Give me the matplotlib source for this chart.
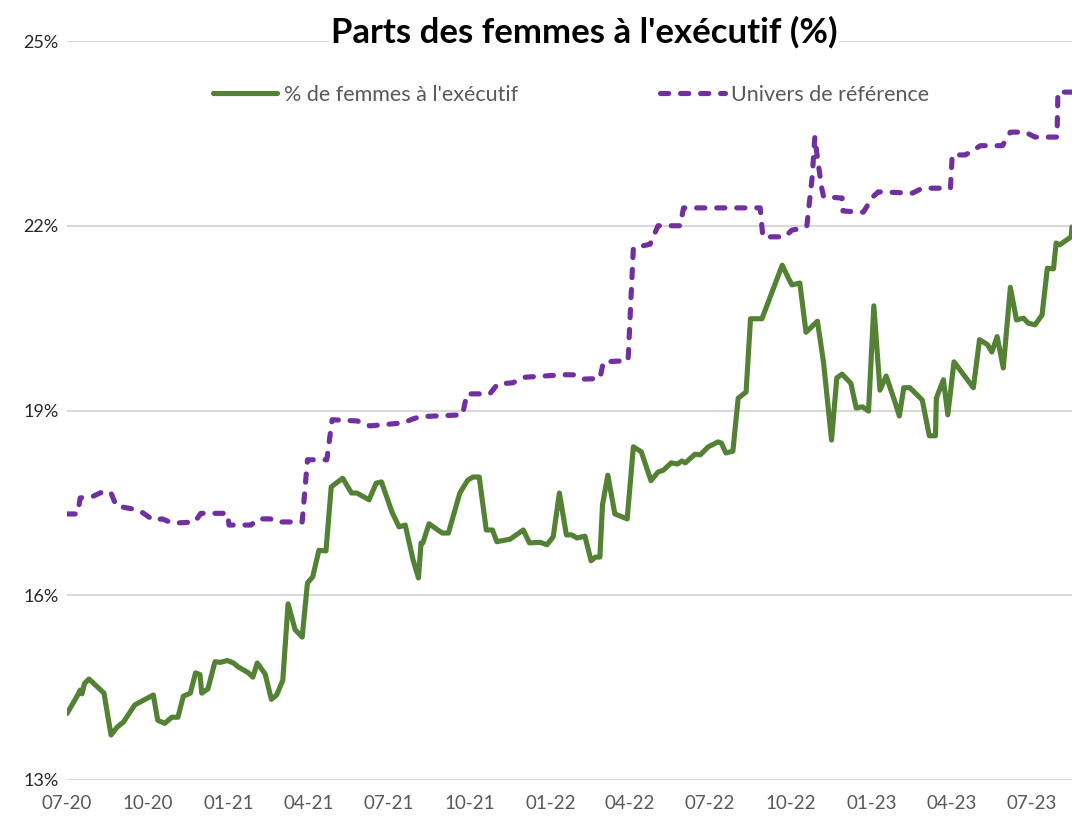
import matplotlib
matplotlib.use("Agg")
import matplotlib.pyplot as plt
import matplotlib.dates as mdates
import pandas as pd

plt.rcParams['font.family'] = ['Lato', 'DejaVu Sans']

title = "Parts des femmes à l'exécutif (%)"
label_women = "% de femmes à l'exécutif"
label_ref = "Univers de référence"

women_dates = [
    "2020-07-01", "2020-07-12", "2020-07-16", "2020-07-18", "2020-07-21", "2020-07-26",
    "2020-08-12", "2020-08-20", "2020-08-27", "2020-09-03", "2020-09-16", "2020-10-07",
    "2020-10-12", "2020-10-20", "2020-10-28", "2020-11-04", "2020-11-10", "2020-11-18",
    "2020-11-24", "2020-11-29", "2020-12-01", "2020-12-08", "2020-12-16", "2020-12-22",
    "2020-12-30", "2021-01-06", "2021-01-11", "2021-01-23", "2021-01-28", "2021-02-02",
    "2021-02-11", "2021-02-18", "2021-02-24", "2021-03-03", "2021-03-09", "2021-03-17",
    "2021-03-25", "2021-03-31", "2021-04-06", "2021-04-13", "2021-04-21", "2021-04-27",
    "2021-05-10", "2021-05-20", "2021-05-26", "2021-06-09", "2021-06-17", "2021-06-23",
    "2021-07-05", "2021-07-13", "2021-07-20", "2021-07-29", "2021-08-04", "2021-08-07",
    "2021-08-09", "2021-08-16", "2021-08-31", "2021-09-07", "2021-09-20", "2021-09-29",
    "2021-10-05", "2021-10-12", "2021-10-20", "2021-10-27", "2021-11-01", "2021-11-16",
    "2021-12-01", "2021-12-08", "2021-12-20", "2021-12-28", "2022-01-04", "2022-01-11",
    "2022-01-19", "2022-01-25", "2022-01-31", "2022-02-09", "2022-02-16", "2022-02-21",
    "2022-02-26", "2022-03-01", "2022-03-07", "2022-03-15", "2022-03-29", "2022-04-05",
    "2022-04-14", "2022-04-25", "2022-05-03", "2022-05-09", "2022-05-18", "2022-05-25",
    "2022-05-30", "2022-06-03", "2022-06-14", "2022-06-20", "2022-06-29", "2022-07-10",
    "2022-07-14", "2022-07-19", "2022-07-27", "2022-08-02", "2022-08-11", "2022-08-16",
    "2022-08-29", "2022-09-21", "2022-09-28", "2022-10-02", "2022-10-11", "2022-10-18",
    "2022-10-31", "2022-11-07", "2022-11-16", "2022-11-22", "2022-11-28", "2022-12-08",
    "2022-12-14", "2022-12-21", "2022-12-28", "2023-01-03", "2023-01-10", "2023-01-17",
    "2023-01-27", "2023-02-01", "2023-02-06", "2023-02-13", "2023-02-27", "2023-03-07",
    "2023-03-14", "2023-03-15", "2023-03-23", "2023-03-28", "2023-04-04", "2023-04-26",
    "2023-05-03", "2023-05-12", "2023-05-17", "2023-05-23", "2023-05-30", "2023-06-07",
    "2023-06-14", "2023-06-22", "2023-06-27", "2023-07-05", "2023-07-13", "2023-07-19",
    "2023-07-26", "2023-07-29", "2023-08-02", "2023-08-15", "2023-08-16",
]
women_values = [
    14.08, 14.35, 14.46, 14.40, 14.57, 14.64,
    14.41, 13.73, 13.86, 13.94, 14.22, 14.38,
    13.97, 13.92, 14.02, 14.02, 14.36, 14.41,
    14.74, 14.71, 14.41, 14.48, 14.92, 14.91,
    14.94, 14.90, 14.84, 14.74, 14.67, 14.90,
    14.72, 14.31, 14.38, 14.62, 15.86, 15.44,
    15.32, 16.20, 16.30, 16.73, 16.72, 17.76,
    17.90, 17.66, 17.66, 17.55, 17.82, 17.84,
    17.35, 17.11, 17.14, 16.57, 16.28, 16.85,
    16.85, 17.16, 17.01, 17.01, 17.66, 17.87,
    17.92, 17.92, 17.06, 17.06, 16.87, 16.91,
    17.06, 16.85, 16.86, 16.82, 16.95, 17.66,
    16.98, 16.98, 16.93, 16.96, 16.56, 16.62,
    16.62, 17.47, 17.95, 17.32, 17.24, 18.41,
    18.33, 17.86, 18.00, 18.03, 18.15, 18.13,
    18.18, 18.15, 18.29, 18.28, 18.41, 18.49,
    18.47, 18.31, 18.34, 19.20, 19.30, 20.49,
    20.49, 21.36, 21.15, 21.04, 21.07, 20.27,
    20.45, 19.77, 18.52, 19.53, 19.59, 19.44,
    19.04, 19.06, 18.99, 20.70, 19.33, 19.56,
    19.14, 18.91, 19.37, 19.37, 19.17, 18.59,
    18.59, 19.20, 19.50, 18.93, 19.79, 19.37,
    20.15, 20.07, 19.95, 20.20, 19.69, 21.00,
    20.47, 20.50, 20.42, 20.39, 20.55, 21.31,
    21.30, 21.72, 21.69, 21.82, 21.98,
]

ref_dates = [
    "2020-07-01", "2020-07-13", "2020-07-16", "2020-07-31", "2020-08-12", "2020-08-20",
    "2020-08-26", "2020-09-14", "2020-09-25", "2020-10-07", "2020-10-17", "2020-10-29",
    "2020-11-23", "2020-11-30", "2020-12-30", "2021-01-01", "2021-01-26", "2021-02-03",
    "2021-02-17", "2021-02-24", "2021-03-25", "2021-03-31", "2021-04-22", "2021-04-28",
    "2021-05-27", "2021-05-30", "2021-06-10", "2021-07-18", "2021-07-28", "2021-08-06",
    "2021-09-23", "2021-09-28", "2021-10-24", "2021-11-02", "2021-11-19", "2021-12-03",
    "2022-01-15", "2022-01-27", "2022-02-08", "2022-02-26", "2022-03-02", "2022-03-30",
    "2022-04-05", "2022-04-24", "2022-05-03", "2022-05-28", "2022-06-01", "2022-08-27",
    "2022-08-30", "2022-09-24", "2022-10-02", "2022-10-14", "2022-10-19", "2022-10-25",
    "2022-10-28", "2022-10-31", "2022-11-05", "2022-11-07", "2022-11-28", "2022-11-29",
    "2022-12-22", "2023-01-02", "2023-01-08", "2023-02-16", "2023-02-27", "2023-03-31",
    "2023-04-02", "2023-04-17", "2023-05-04", "2023-05-29", "2023-06-07", "2023-06-24",
    "2023-07-05", "2023-07-30", "2023-07-31", "2023-08-16",
]
ref_values = [
    17.32, 17.32, 17.58, 17.61, 17.69, 17.66,
    17.45, 17.40, 17.34, 17.22, 17.24, 17.17,
    17.19, 17.33, 17.33, 17.14, 17.14, 17.24,
    17.24, 17.19, 17.19, 18.20, 18.20, 18.85,
    18.83, 18.80, 18.75, 18.80, 18.86, 18.90,
    18.93, 19.27, 19.27, 19.43, 19.45, 19.54,
    19.58, 19.58, 19.51, 19.52, 19.79, 19.81,
    21.64, 21.70, 22.00, 22.00, 22.29, 22.29,
    21.82, 21.82, 21.93, 21.96, 22.00, 22.79,
    23.44, 23.10, 22.60, 22.47, 22.45, 22.24,
    22.22, 22.47, 22.55, 22.53, 22.61, 22.61,
    23.15, 23.15, 23.30, 23.30, 23.52, 23.52,
    23.44, 23.44, 24.17, 24.17,
]

y_ticks = [13, 16, 19, 22, 25]
x_tick_dates = ["2020-07-01", "2020-10-01", "2021-01-01", "2021-04-01", "2021-07-01",
                "2021-10-01", "2022-01-01", "2022-04-01", "2022-07-01", "2022-10-01",
                "2023-01-01", "2023-04-01", "2023-07-01"]

green = "#548235"
purple = "#7030A0"

fig = plt.figure(figsize=(10.72, 8.16), dpi=100)
ax = fig.add_axes([67 / 1072, 36 / 816, 1 - 67 / 1072, 739 / 816])

wd = pd.to_datetime(women_dates)
rd = pd.to_datetime(ref_dates)

ax.plot(wd, women_values, color=green, lw=3.7, solid_joinstyle='round',
        solid_capstyle='round', label=label_women, zorder=3)
ax.plot(rd, ref_values, color=purple, lw=3.7, linestyle=(0, (1.6, 2.3)),
        dash_capstyle='round', label=label_ref, zorder=3)

ax.set_ylim(13, 25)
ax.set_xlim(pd.Timestamp("2020-07-01"), pd.Timestamp("2023-08-16"))
ax.set_yticks(y_ticks)
ax.set_yticklabels([f"{v}%" for v in y_ticks])
ax.set_xticks(pd.to_datetime(x_tick_dates))
ax.xaxis.set_major_formatter(mdates.DateFormatter('%m-%y'))

ax.grid(axis='y', color='#d9d9d9', lw=1.5, zorder=0)
ax.grid(axis='x', visible=False)
for s in ax.spines.values():
    s.set_visible(False)
ax.tick_params(axis='both', length=0)
ax.tick_params(axis='y', labelsize=13, labelcolor='#262626', pad=6)
ax.tick_params(axis='x', labelsize=13.5, labelcolor='#595959', pad=11)
ax.set_axisbelow(True)

leg = ax.legend(loc='center', bbox_to_anchor=(0.5015, 0.927), ncol=2, frameon=False,
                fontsize=15.5, handlelength=3.0, handletextpad=0.3, columnspacing=6.6)
for t in leg.get_texts():
    t.set_color('#595959')

fig.text(584 / 1072, 1 - 32 / 816, title, ha='center', va='center', fontsize=25,
         fontweight='bold', color='black',
         bbox=dict(facecolor='white', edgecolor='none', pad=1))

fig.savefig("out.png", dpi=100)
